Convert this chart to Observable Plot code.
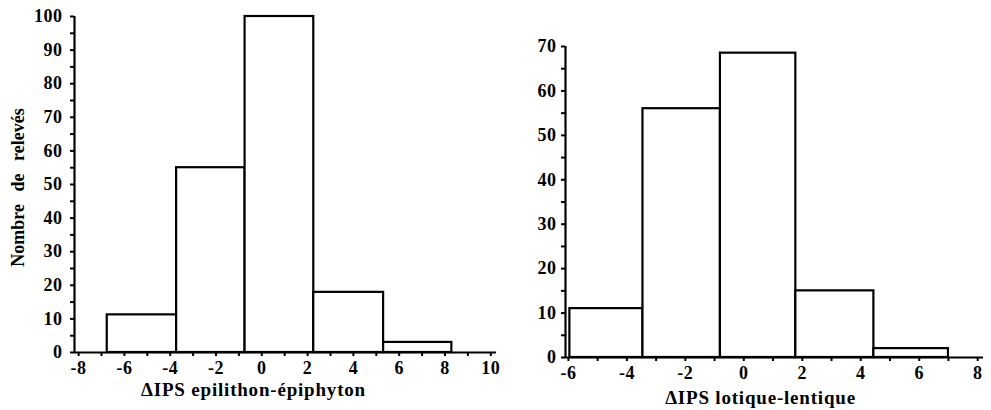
<!DOCTYPE html>
<html>
<head>
<meta charset="utf-8">
<script src="https://cdn.jsdelivr.net/npm/d3@7"></script>
<script src="https://cdn.jsdelivr.net/npm/@observablehq/plot@0.6"></script>
<style>
  html, body { margin: 0; padding: 0; background: #fff; }
  #wrap { display: flex; width: 991px; height: 410px; }
</style>
</head>
<body>
<div id="wrap"><div id="left"></div><div id="right"></div></div>
<script>
// Left histogram: ΔIPS epilithon-épiphyton
const leftEdges = [-6.75, -3.72, -0.73, 2.27, 5.32, 8.3];
const leftCounts = [11.2, 55, 100, 17.9, 3];
const leftXTicks = [-8, -7, -6, -5, -4, -3, -2, -1, 0, 1, 2, 3, 4, 5, 6, 7, 8, 9, 10];
const leftYTicks = [0, 5, 10, 15, 20, 25, 30, 35, 40, 45, 50, 55, 60, 65, 70, 75, 80, 85, 90, 95, 100];
const leftXTitle = "ΔIPS epilithon-épiphyton";
const leftYTitle = "Nombre de relevés";

// Right histogram: ΔIPS lotique-lentique
const rightEdges = [-5.95, -3.45, -0.8, 1.78, 4.45, 7.0];
const rightCounts = [11, 56, 68.5, 15, 2];
const rightXTicks = [-6, -5, -4, -3, -2, -1, 0, 1, 2, 3, 4, 5, 6, 7, 8];
const rightYTicks = [0, 5, 10, 15, 20, 25, 30, 35, 40, 45, 50, 55, 60, 65, 70];
const rightXTitle = "ΔIPS lotique-lentique";

const FONT = "Liberation Serif, DejaVu Serif, serif";

function bins(edges, counts) {
  return counts.map((c, i) => ({x1: edges[i], x2: edges[i + 1], y: c}));
}

function hist({width, height, marginLeft, marginRight, marginTop, marginBottom,
               xDomain, yDomain, xTicks, yTicks, yPad, data, xTitle, xTitleDx, xTitleDy, yTitle}) {
  const marks = [
    Plot.rectY(data, {x1: "x1", x2: "x2", y: "y", fill: "#fff", stroke: "#000", strokeWidth: 2.2}),
    Plot.ruleX([xDomain[0]], {stroke: "#000", strokeWidth: 2.2}),
    Plot.ruleY([0], {stroke: "#000", strokeWidth: 2.2}),
    Plot.axisX({ticks: xTicks, tickSize: 4, tickPadding: 5, strokeWidth: 2,
      tickFormat: d => (d % 2 === 0 ? String(d) : ""), fontSize: 18, fontWeight: "bold",
      fontFamily: FONT, fill: "#000", label: null}),
    Plot.axisY({ticks: yTicks, tickSize: 4, tickPadding: yPad, strokeWidth: 2,
      tickFormat: d => (d % 10 === 0 ? String(d) : ""), fontSize: 18, fontWeight: "bold",
      fontFamily: FONT, fill: "#000", label: null}),
    Plot.text([xTitle], {frameAnchor: "bottom", lineAnchor: "middle", dx: xTitleDx, dy: xTitleDy,
      fontSize: 19, fontWeight: "bold", fontFamily: FONT, fill: "#000"})
  ];
  if (yTitle) {
    marks.push(Plot.text([yTitle], {frameAnchor: "left", textAnchor: "middle", lineAnchor: "middle",
      dx: -56, dy: 3, rotate: -90,
      fontSize: 18, fontWeight: "bold", fontFamily: FONT, fill: "#000"}));
  }
  return Plot.plot({
    width, height, marginLeft, marginRight, marginTop, marginBottom,
    style: {background: "#fff", color: "#000", fontFamily: FONT},
    x: {domain: xDomain},
    y: {domain: yDomain},
    marks
  });
}

const leftSvg = hist({
  width: 500, height: 410, marginLeft: 74, marginRight: 4, marginTop: 16, marginBottom: 58,
  xDomain: [-8.18, 10.25], yDomain: [0, 100], xTicks: leftXTicks, yTicks: leftYTicks, yPad: 8,
  data: bins(leftEdges, leftCounts), xTitle: leftXTitle, xTitleDx: -32, xTitleDy: 37, yTitle: leftYTitle
});
const rightSvg = hist({
  width: 491, height: 410, marginLeft: 65, marginRight: 8, marginTop: 46, marginBottom: 53,
  xDomain: [-6.1, 8.2], yDomain: [0, 70], xTicks: rightXTicks, yTicks: rightYTicks, yPad: 5,
  data: bins(rightEdges, rightCounts), xTitle: rightXTitle, xTitleDx: -14, xTitleDy: 40, yTitle: null
});
document.getElementById("left").appendChild(leftSvg);
document.getElementById("right").appendChild(rightSvg);
// make sure every text carries its font as attributes and inline style
d3.selectAll("#wrap svg text")
  .attr("font-family", FONT).attr("font-weight", "bold")
  .style("font-family", FONT).style("font-weight", "bold");
d3.selectAll("#wrap svg g[aria-label$='tick label'] text")
  .attr("font-size", 18).style("font-size", "18px")
  .attr("letter-spacing", "0.5").style("letter-spacing", "0.5px");
d3.selectAll("#wrap svg text")
  .filter(function () { return this.textContent === leftXTitle || this.textContent === rightXTitle; })
  .attr("letter-spacing", "0.8").style("letter-spacing", "0.8px");
d3.select(leftSvg).selectAll("text")
  .filter(function () { return this.textContent === leftYTitle; })
  .attr("font-size", 18).style("font-size", "18px")
  .attr("word-spacing", "8").style("word-spacing", "8px");
</script>
</body>
</html>
